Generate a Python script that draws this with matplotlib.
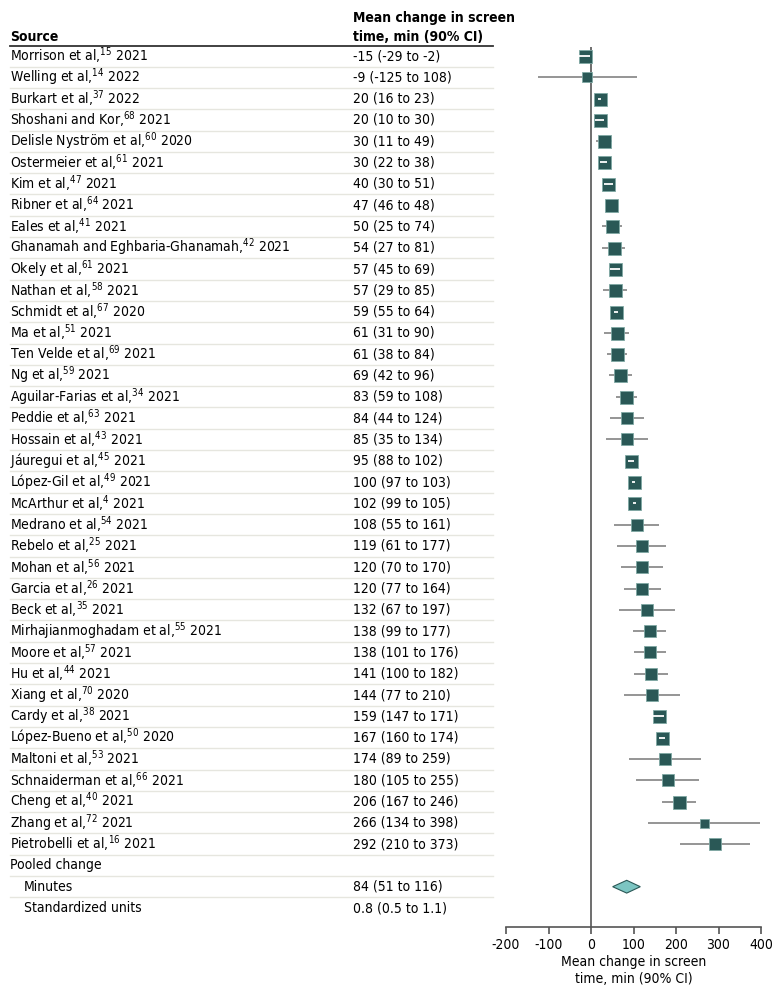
import numpy as np
import matplotlib
matplotlib.use('Agg')
import matplotlib.pyplot as plt
from matplotlib import font_manager
from matplotlib.transforms import blended_transform_factory

# pick a condensed face if one is installed
stretch = 'normal'
family = 'Liberation Sans'
fs = 10.0
names = [(f.name, f.stretch) for f in font_manager.fontManager.ttflist]
if ('DejaVu Sans', 'condensed') in names or ('DejaVu Sans', 'semi-condensed') in names:
    family = 'DejaVu Sans'
    stretch = 'condensed' if ('DejaVu Sans', 'condensed') in names else 'semi-condensed'
    fs = 10.0
elif any(n == 'Liberation Sans Narrow' for n, s in names):
    family = 'Liberation Sans Narrow'
    fs = 11.0

plt.rcParams['font.family'] = [family, 'DejaVu Sans']
plt.rcParams['font.stretch'] = stretch
plt.rcParams['axes.unicode_minus'] = False
plt.rcParams['mathtext.fontset'] = 'custom'
plt.rcParams['mathtext.rm'] = family + ':stretch=' + stretch

# Study data
authors = ["Morrison et al,", "Welling et al,", "Burkart et al,", "Shoshani and Kor,",
           "Delisle Nyström et al,", "Ostermeier et al,", "Kim et al,", "Ribner et al,",
           "Eales et al,", "Ghanamah and Eghbaria-Ghanamah,", "Okely et al,", "Nathan et al,",
           "Schmidt et al,", "Ma et al,", "Ten Velde et al,", "Ng et al,", "Aguilar-Farias et al,",
           "Peddie et al,", "Hossain et al,", "Jáuregui et al,", "López-Gil et al,",
           "McArthur et al,", "Medrano et al,", "Rebelo et al,", "Mohan et al,", "Garcia et al,",
           "Beck et al,", "Mirhajianmoghadam et al,", "Moore et al,", "Hu et al,", "Xiang et al,",
           "Cardy et al,", "López-Bueno et al,", "Maltoni et al,", "Schnaiderman et al,",
           "Cheng et al,", "Zhang et al,", "Pietrobelli et al,"]
refs = ["15", "14", "37", "68", "60", "61", "47", "64", "41", "42", "61", "58", "67", "51", "69",
        "59", "34", "63", "43", "45", "49", "4", "54", "25", "56", "26", "35", "55", "57", "44",
        "70", "38", "50", "53", "66", "40", "72", "16"]
years = ["2021", "2022", "2022", "2021", "2020", "2021", "2021", "2021", "2021", "2021", "2021",
         "2021", "2020", "2021", "2021", "2021", "2021", "2021", "2021", "2021", "2021", "2021",
         "2021", "2021", "2021", "2021", "2021", "2021", "2021", "2021", "2020", "2021", "2020",
         "2021", "2021", "2021", "2021", "2021"]
means = [-15, -9, 20, 20, 30, 30, 40, 47, 50, 54, 57, 57, 59, 61, 61, 69, 83, 84, 85, 95, 100,
         102, 108, 119, 120, 120, 132, 138, 138, 141, 144, 159, 167, 174, 180, 206, 266, 292]
lows = [-29, -125, 16, 10, 11, 22, 30, 46, 25, 27, 45, 29, 55, 31, 38, 42, 59, 44, 35, 88, 97,
        99, 55, 61, 70, 77, 67, 99, 101, 100, 77, 147, 160, 89, 105, 167, 134, 210]
highs = [-2, 108, 23, 30, 49, 38, 51, 48, 74, 81, 69, 85, 64, 90, 84, 96, 108, 124, 134, 102,
         103, 105, 161, 177, 170, 164, 197, 177, 176, 182, 210, 171, 174, 259, 255, 246, 398, 373]
# relative weight (marker size)
weights = [13, 10, 13, 13, 13, 13, 13, 13, 13, 13, 13, 13, 13, 13, 13, 13, 13, 12, 12, 13, 13,
           13, 12, 12, 12, 12, 12, 12, 12, 12, 12, 13, 13, 12, 12, 13, 9, 12]

pooled_mean, pooled_lo, pooled_hi = 84, 51, 116
pooled_rows = ["Pooled change", "Minutes", "Standardized units"]
pooled_text = ["", "84 (51 to 116)", "0.8 (0.5 to 1.1)"]

sq_color = '#2a5856'
ci_color = '#8c8c8c'

W, H = 780, 996
fig = plt.figure(figsize=(W / 100, H / 100), dpi=100)
ax = fig.add_axes([506 / W, 1 - 927 / H, (761 - 506) / W, (927 - 47) / H])
row_h = 21.3
ax.set_ylim((927 - 56) / row_h, (47 - 56) / row_h)
ax.set_xlim(-200, 400)

n = len(means)
for i in range(n):
    ax.plot([lows[i], highs[i]], [i, i], color=ci_color, lw=1.3, zorder=2, solid_capstyle='butt')
    ax.plot(means[i], i, marker='s', markersize=weights[i] * 0.72, color=sq_color,
            markeredgecolor='#7fa8a4', markeredgewidth=0.6, zorder=3)
    # CI lies within the box -> show it as white line
    half = weights[i] / 2 / (255 / 600)
    if means[i] - lows[i] < half and highs[i] - means[i] < half:
        ax.plot([lows[i], highs[i]], [i, i], color='white', lw=1.3, zorder=4, solid_capstyle='butt')

# pooled diamond
yd = n + 1
dh = 0.3
ax.fill([pooled_lo, pooled_mean, pooled_hi, pooled_mean],
        [yd, yd - dh, yd, yd + dh], facecolor='#7cc5c2', edgecolor='#2a5856', lw=0.8, zorder=3)

ax.axvline(0, color='#555555', lw=1.2, zorder=1)
for s in ['left', 'top', 'right']:
    ax.spines[s].set_visible(False)
ax.spines['bottom'].set_color('#555555')
ax.spines['bottom'].set_linewidth(1.2)
ax.set_yticks([])
ax.set_xticks([-200, -100, 0, 100, 200, 300, 400])
ax.tick_params(axis='x', direction='out', length=5, width=1.2, color='#555555',
               labelsize=fs, pad=3)
ax.set_xlabel('Mean change in screen\ntime, min (90% CI)', fontsize=fs, labelpad=2,
              linespacing=1.3)

tr = blended_transform_factory(fig.transFigure, ax.transData)
x_src = 10 / W
x_val = 353 / W

# header
fig.text(x_src, 1 - 37 / H, 'Source', fontsize=fs, fontweight='bold', va='center')
fig.text(x_val, 1 - 18 / H, 'Mean change in screen', fontsize=fs, fontweight='bold', va='center')
fig.text(x_val, 1 - 37 / H, 'time, min (90% CI)', fontsize=fs, fontweight='bold', va='center')
ax.plot([x_src, 493 / W], [-0.45, -0.45], transform=tr, color='#333333', lw=1.3, clip_on=False)

for i in range(n):
    lbl = authors[i] + r'$^{\mathregular{' + refs[i] + '}}$ ' + years[i]
    ax.text(x_src, i, lbl, transform=tr, fontsize=fs, va='center')
    ax.text(x_val, i, '%d (%d to %d)' % (means[i], lows[i], highs[i]), transform=tr,
            fontsize=fs, va='center')

for j, name in enumerate(pooled_rows):
    r = n + j
    xx = x_src if j == 0 else 24 / W
    ax.text(xx, r, name, transform=tr, fontsize=fs, va='center')
    ax.text(x_val, r, pooled_text[j], transform=tr, fontsize=fs, va='center')

for r in range(n + 2):
    ax.plot([x_src, 493 / W], [r + 0.5, r + 0.5], transform=tr, color='#e6e6df', lw=1.0,
            clip_on=False)

fig.savefig('out.png', dpi=100)
